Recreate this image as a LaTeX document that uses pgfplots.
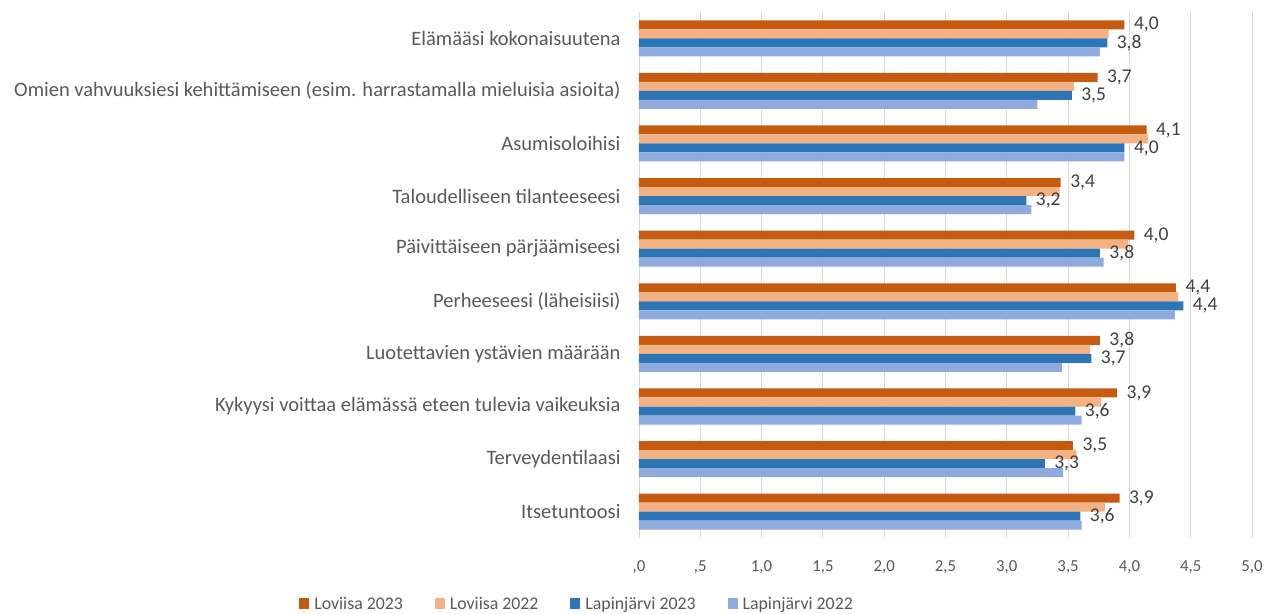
\documentclass[border=0pt]{standalone}
\usepackage{pgfplots}
\pgfplotsset{compat=1.18}
\usepackage{pgfplotstable}
\usepackage{fontspec}
\setmainfont{Carlito}
\definecolor{lov23}{HTML}{C55A11}
\definecolor{lov22}{HTML}{F4B183}
\definecolor{lap23}{HTML}{2E75B6}
\definecolor{lap22}{HTML}{8FAADC}
\definecolor{txt}{HTML}{595959}
\definecolor{vtxt}{HTML}{404040}
\definecolor{gridc}{HTML}{D9D9D9}
\pgfplotstableread{
y L23 L22 P23 P22
9 3.96 3.83 3.82 3.76
8 3.74 3.55 3.53 3.25
7 4.14 4.15 3.96 3.96
6 3.44 3.43 3.16 3.20
5 4.04 3.99 3.76 3.79
4 4.38 4.40 4.44 4.37
3 3.76 3.68 3.69 3.45
2 3.90 3.77 3.56 3.61
1 3.54 3.57 3.31 3.46
0 3.92 3.80 3.60 3.61
}\data
\newcommand{\fs}{\fontsize{16.8bp}{19bp}\selectfont}
\newcommand{\fl}{\fontsize{17.8bp}{20bp}\selectfont}
\newcommand{\fc}{\fontsize{20.5bp}{24bp}\selectfont}
\newcommand{\fv}{\fontsize{19.5bp}{23bp}\selectfont}
\begin{document}
\begin{tikzpicture}
\useasboundingbox (-639bp,-76bp) rectangle (635bp,538bp);
\begin{axis}[
  at={(0,0)}, anchor=south west,
  scale only axis,
  width=613bp, height=526bp,
  xmin=0, xmax=5, ymin=-0.5, ymax=9.5,
  xbar, bar width=9bp,
  axis line style={draw=none},
  xmajorgrids=true, ymajorgrids=false,
  major grid style={draw=gridc, line width=0.8bp},
  xtick={0,0.5,...,5},
  xticklabels={{,0},{,5},{1,0},{1,5},{2,0},{2,5},{3,0},{3,5},{4,0},{4,5},{5,0}},
  ytick={0,...,9},
  yticklabels={Itsetuntoosi,Terveydentilaasi,Kykyysi voittaa elämässä eteen tulevia vaikeuksia,Luotettavien ystävien määrään,Perheeseesi (läheisiisi),Päivittäiseen pärjäämiseesi,Taloudelliseen tilanteeseesi,Asumisoloihisi,Omien vahvuuksiesi kehittämiseen (esim. harrastamalla mieluisia asioita),Elämääsi kokonaisuutena},
  major tick length=0pt,
  tick style={draw=none},
  xticklabel style={font=\fs, text=txt, yshift=-19bp},
  yticklabel style={font=\fc, text=txt, xshift=-15bp},
  legend columns=4,
  legend style={draw=none, font=\fl, text=txt, at={(-0.101,-0.125)}, anchor=center,
    /tikz/every odd column/.append style={column sep=3bp},
    /tikz/every even column/.append style={column sep=30bp}},
  legend image code/.code={\fill (0bp,-5bp) rectangle (10bp,6bp);},
  point meta=x,
  every node near coord/.append style={font=\fv, text=vtxt, anchor=west, xshift=6bp},
  nodes near coords={\pgfmathprintnumber[fixed,fixed zerofill,precision=1,use comma,assume math mode=true]{\pgfplotspointmeta}},
]
\addplot[fill=lov23, draw=none, bar shift=13.5bp] table[x=L23,y=y]{\data};
\addplot[fill=lov22, draw=none, bar shift=4.5bp, nodes near coords={}] table[x=L22,y=y]{\data};
\addplot[fill=lap23, draw=none, bar shift=-4.5bp] table[x=P23,y=y]{\data};
\addplot[fill=lap22, draw=none, bar shift=-13.5bp, nodes near coords={}] table[x=P22,y=y]{\data};
\legend{Loviisa 2023,Loviisa 2022,Lapinjärvi 2023,Lapinjärvi 2022}
\end{axis}
\end{tikzpicture}
\end{document}
